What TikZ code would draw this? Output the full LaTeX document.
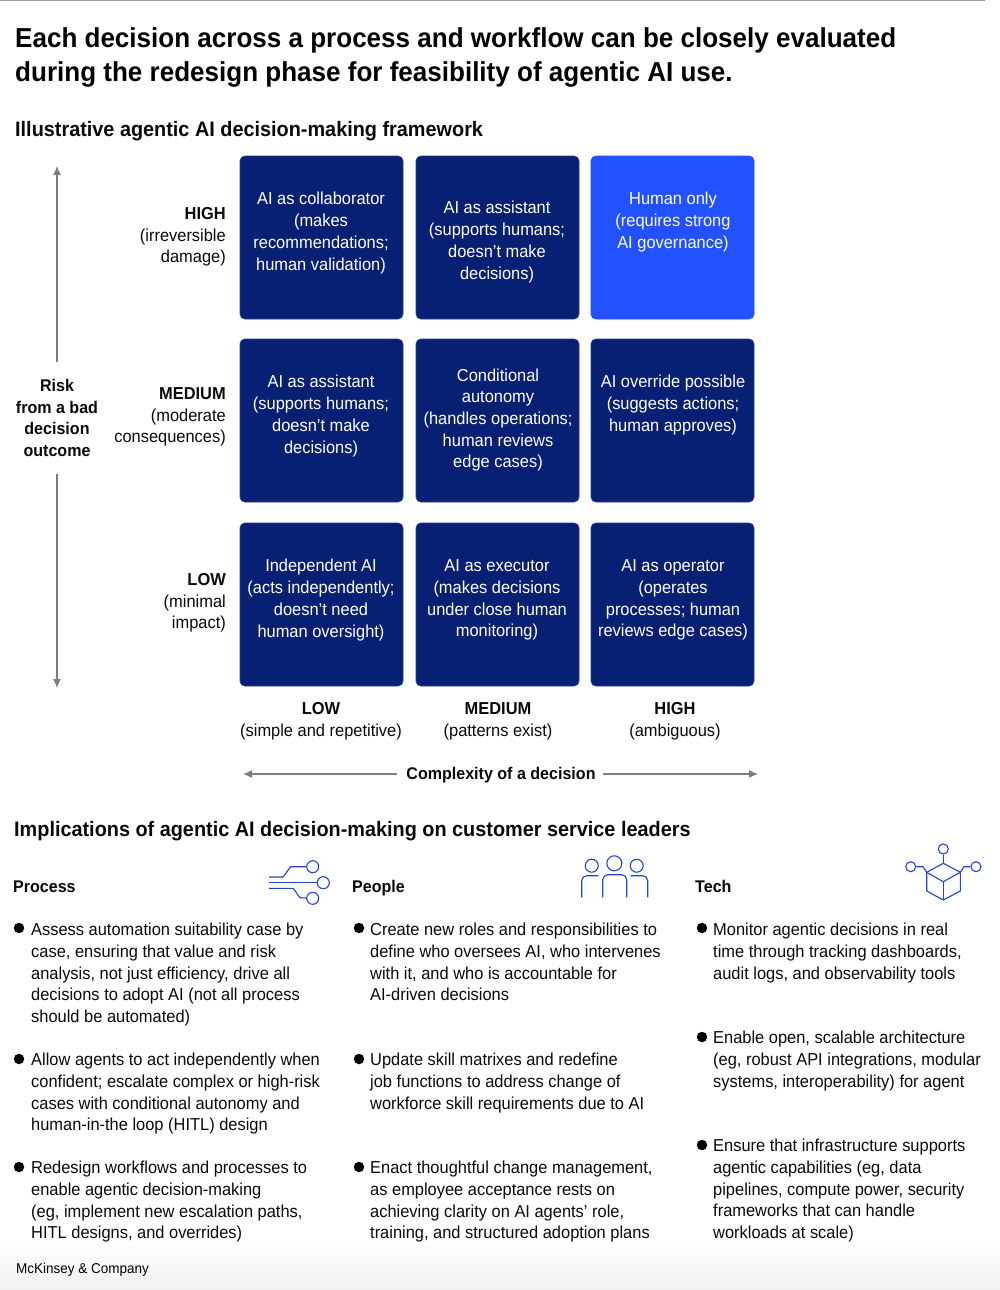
\documentclass[tikz,border=0pt]{standalone}
\usepackage{fontspec}
\usetikzlibrary{arrows.meta}
\setmainfont[FakeStretch=0.95]{Liberation Sans}
\tikzset{
    cellbox/.style={rounded corners=5pt, draw=navyline, line width=0.8pt},
    celltext/.style={text=white, align=center, inner sep=0pt, font=\fontsize{17.3}{21.7}\selectfont},
    bodytext/.style={text=inkblack, align=left, anchor=north west, inner sep=0pt, font=\fontsize{17.3}{21.7}\selectfont},
    sidetext/.style={text=inkblack, align=right, anchor=east, inner sep=0pt, font=\fontsize{17.3}{21.7}\selectfont},
    axistext/.style={text=inkblack, align=center, inner sep=0pt, font=\fontsize{17.3}{21.7}\selectfont},
    axisbold/.style={axistext, font=\fontsize{16.9}{21.7}\bfseries\selectfont},
    headtext/.style={text=inkblack, anchor=west, inner sep=0pt, font=\fontsize{20.9}{24}\bfseries\selectfont},
    coltext/.style={text=inkblack, anchor=base west, inner sep=0pt, font=\fontsize{16.9}{21.7}\bfseries\selectfont},
    bulletdot/.style={circle, fill=black, inner sep=0pt, minimum size=10.5pt},
    axisline/.style={draw=axisgrey, line width=1.2pt, -{Latex[length=9pt,width=8pt]}},
    iconline/.style={draw=iconblue, line width=1.1pt},
    iconring/.style={circle, draw=iconblue, line width=1.1pt, inner sep=0pt, minimum size=12pt},
}
\begin{document}
\begin{tikzpicture}[x=1pt, y=-1pt]
    \definecolor{navyRF}{RGB}{8, 32, 116}
    \definecolor{navyline}{RGB}{40, 60, 135}
    \definecolor{brightRF}{RGB}{34, 81, 255}
    \definecolor{inkblack}{RGB}{10, 10, 10}
    \definecolor{axisgrey}{RGB}{125, 125, 125}
    \definecolor{iconblue}{RGB}{34, 70, 210}
    \useasboundingbox (0,0) rectangle (1000,1290);
    \fill[white] (0,0) rectangle (1000,1290);
    \shade[top color=white, bottom color=black!6] (0,1240) rectangle (1000,1290);
    \draw[black!40, line width=1pt] (0,0.5) -- (985,0.5);
    % titles
    \node[anchor=north west, inner sep=0pt, align=left, text=black, font=\fontsize{27.4}{34}\bfseries\selectfont] (title) at (15,27)
        {Each decision across a process and workflow can be closely evaluated\\during the redesign phase for feasibility of agentic AI use.};
    \node[headtext] (framework) at (15,131) {Illustrative agentic AI decision-making framework};
    \node[headtext] (implications) at (14,831) {Implications of agentic AI decision-making on customer service leaders};
    % grid of cells
    \draw[cellbox, fill=navyRF] (240,156) rectangle (403,319);
    \draw[cellbox, fill=navyRF] (416,156) rectangle (579,319);
    \draw[cellbox, fill=brightRF, draw=brightRF] (591,156) rectangle (754,319);
    \draw[cellbox, fill=navyRF] (240,339) rectangle (403,502);
    \draw[cellbox, fill=navyRF] (416,339) rectangle (579,502);
    \draw[cellbox, fill=navyRF] (591,339) rectangle (754,502);
    \draw[cellbox, fill=navyRF] (240,523) rectangle (403,686);
    \draw[cellbox, fill=navyRF] (416,523) rectangle (579,686);
    \draw[cellbox, fill=navyRF] (591,523) rectangle (754,686);
    \node[celltext] (highlow) at (321,233) {AI as collaborator\\(makes\\recommendations;\\human validation)};
    \node[celltext] (highmed) at (497,242) {AI as assistant\\(supports humans;\\doesn't make\\decisions)};
    \node[celltext] (highhigh) at (673,222) {Human only\\(requires strong\\AI governance)};
    \node[celltext] (medlow) at (321,416) {AI as assistant\\(supports humans;\\doesn't make\\decisions)};
    \node[celltext] (medmed) at (498,420) {Conditional\\autonomy\\(handles operations;\\human reviews\\edge cases)};
    \node[celltext] (medhigh) at (673,405) {AI override possible\\(suggests actions;\\human approves)};
    \node[celltext] (lowlow) at (321,600) {Independent AI\\(acts independently;\\doesn't need\\human oversight)};
    \node[celltext] (lowmed) at (497,600) {AI as executor\\(makes decisions\\under close human\\monitoring)};
    \node[celltext] (lowhigh) at (673,600) {AI as operator\\(operates\\processes; human\\reviews edge cases)};
    % axis labels
    \node[sidetext] (riskhigh) at (226,237) {\textbf{HIGH}\\(irreversible\\damage)};
    \node[sidetext] (riskmed) at (226,417) {\textbf{MEDIUM}\\(moderate\\consequences)};
    \node[sidetext] (risklow) at (226,603) {\textbf{LOW}\\(minimal\\impact)};
    \node[axistext] (cplxlow) at (321,721) {\textbf{LOW}\\(simple and repetitive)};
    \node[axistext] (cplxmed) at (498,721) {\textbf{MEDIUM}\\(patterns exist)};
    \node[axistext] (cplxhigh) at (675,721) {\textbf{HIGH}\\(ambiguous)};
    \node[axisbold] (risk) at (57,418) {Risk\\from a bad\\decision\\outcome};
    \node[axisbold] (complexity) at (501,775) {Complexity of a decision};
    \coordinate (risktop) at (57,166);
    \coordinate (riskbottom) at (57,688);
    \coordinate (cplxleft) at (243,774);
    \coordinate (cplxright) at (758,774);
    \draw[axisline] (57,362) -- (risktop);
    \draw[axisline] (57,474) -- (riskbottom);
    \draw[axisline] (397,774) -- (cplxleft);
    \draw[axisline] (603,774) -- (cplxright);
    % column heads
    \node[coltext] (process) at (13,892) {Process};
    \node[coltext] (people) at (352,892) {People};
    \node[coltext] (tech) at (695,892) {Tech};
    % process icon
    \node[iconring] (ringa) at (312.7,866.7) {};
    \node[iconring] (ringb) at (323.3,882.7) {};
    \node[iconring] (ringc) at (312.7,898.3) {};
    \draw[iconline] (269,877) -- (283,877) -- (290.7,866.7) -- (ringa);
    \draw[iconline] (269,882.7) -- (ringb);
    \draw[iconline] (269,888.3) -- (293.3,888.3) -- (300,897.7) -- (ringc);
    % people icon
    \node[iconring, minimum size=13pt] (heada) at (591.7,865.7) {};
    \node[iconring, minimum size=15pt] (headb) at (614.3,863.3) {};
    \node[iconring, minimum size=13pt] (headc) at (636.7,865.7) {};
    \draw[iconline, rounded corners=5pt] (581.7,897.3) -- (581.7,875.7) -- (598.3,875.7);
    \draw[iconline, rounded corners=5pt] (602.7,897.3) -- (602.7,874.7) -- (626.7,874.7) -- (626.7,897.3);
    \draw[iconline, rounded corners=5pt] (630.7,875.7) -- (647.7,875.7) -- (647.7,897.3);
    % cube icon
    \node[iconring, minimum size=10pt] (cubetop) at (943.3,849) {};
    \node[iconring, minimum size=10pt] (cubeleft) at (910.7,866.7) {};
    \node[iconring, minimum size=10pt] (cuberight) at (976,866.7) {};
    \coordinate (hextop) at (943.3,863.3);
    \coordinate (hexleft) at (926.7,872.3);
    \coordinate (hexright) at (960.3,872.3);
    \coordinate (hexmid) at (943.3,881.7);
    \coordinate (hexbottom) at (943.3,900);
    \draw[iconline] (hextop) -- (hexright) -- (960.3,891) -- (hexbottom) -- (926.7,891) -- (hexleft) -- cycle;
    \draw[iconline] (hexleft) -- (hexmid) -- (hexright);
    \draw[iconline] (hexmid) -- (hexbottom);
    \draw[iconline] (cubetop) -- (hextop);
    \draw[iconline] (cubeleft) -- (923,866.7) -- (hexleft);
    \draw[iconline] (cuberight) -- (964,866.7) -- (hexright);
    % process list
    \node[bulletdot] (proa) at (19,928) {};
    \node[bulletdot] (prob) at (19,1059) {};
    \node[bulletdot] (proc) at (19,1167) {};
    \node[bodytext] (protxa) at (31,923) {Assess automation suitability case by\\case, ensuring that value and risk\\analysis, not just efficiency, drive all\\decisions to adopt AI (not all process\\should be automated)};
    \node[bodytext] (protxb) at (31,1053) {Allow agents to act independently when\\confident; escalate complex or high-risk\\cases with conditional autonomy and\\human-in-the loop (HITL) design};
    \node[bodytext] (protxc) at (31,1161) {Redesign workflows and processes to\\enable agentic decision-making\\(eg, implement new escalation paths,\\HITL designs, and overrides)};
    % people list
    \node[bulletdot] (pepa) at (359,928) {};
    \node[bulletdot] (pepb) at (359,1059) {};
    \node[bulletdot] (pepc) at (359,1167) {};
    \node[bodytext] (peptxa) at (370,923) {Create new roles and responsibilities to\\define who oversees AI, who intervenes\\with it, and who is accountable for\\AI-driven decisions};
    \node[bodytext] (peptxb) at (370,1053) {Update skill matrixes and redefine\\job functions to address change of\\workforce skill requirements due to AI};
    \node[bodytext] (peptxc) at (370,1161) {Enact thoughtful change management,\\as employee acceptance rests on\\achieving clarity on AI agents' role,\\training, and structured adoption plans};
    % tech list
    \node[bulletdot] (teca) at (702,928) {};
    \node[bulletdot] (tecb) at (702,1037) {};
    \node[bulletdot] (tecc) at (702,1145) {};
    \node[bodytext] (tectxa) at (713,923) {Monitor agentic decisions in real\\time through tracking dashboards,\\audit logs, and observability tools};
    \node[bodytext] (tectxb) at (713,1031) {Enable open, scalable architecture\\(eg, robust API integrations, modular\\systems, interoperability) for agent};
    \node[bodytext] (tectxc) at (713,1139) {Ensure that infrastructure supports\\agentic capabilities (eg, data\\pipelines, compute power, security\\frameworks that can handle\\workloads at scale)};
    % footer
    \node[anchor=west, inner sep=0pt, text=black, font=\fontsize{14.2}{17}\selectfont] (brand) at (16,1270) {McKinsey \& Company};
\end{tikzpicture}
\end{document}
